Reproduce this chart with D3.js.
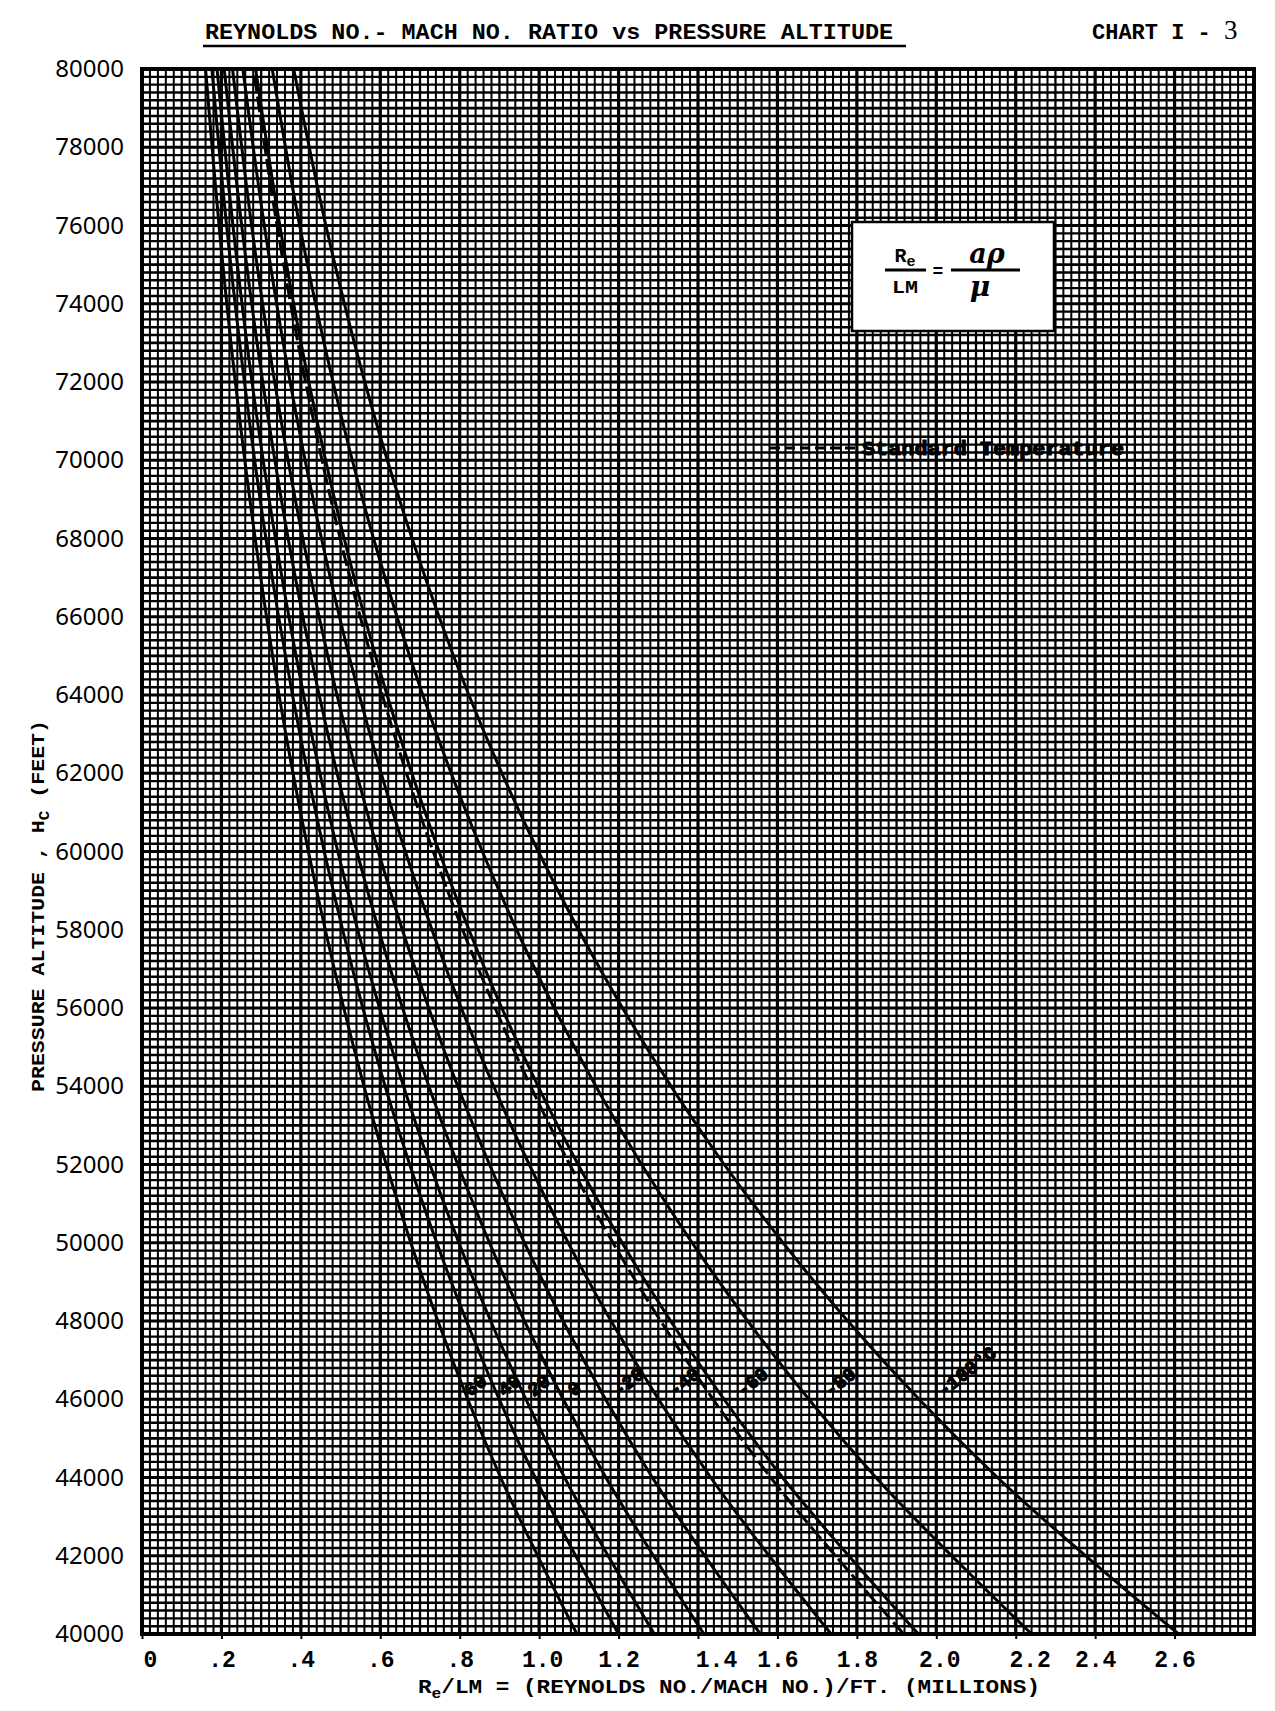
<!DOCTYPE html>
<html><head><meta charset="utf-8">
<script src="https://cdn.jsdelivr.net/npm/d3@7"></script>
<style>body{margin:0;background:#fff}</style>
</head><body>
<svg id="c" width="1275" height="1711" xmlns="http://www.w3.org/2000/svg"></svg>
<script>
// ---------- data ----------
const altitudes = [40000, 44000, 48000, 52000, 56000, 60000, 64000, 68000, 72000, 76000, 80000];
const tPlus60   = [1.095, 0.903, 0.745, 0.615, 0.508, 0.419, 0.345, 0.285, 0.235, 0.194, 0.160];
const tPlus40   = [1.200, 0.990, 0.817, 0.674, 0.556, 0.459, 0.379, 0.312, 0.258, 0.213, 0.176];
const tPlus20   = [1.290, 1.064, 0.878, 0.725, 0.598, 0.493, 0.407, 0.336, 0.277, 0.229, 0.189];
const tZero     = [1.415, 1.168, 0.963, 0.795, 0.656, 0.541, 0.446, 0.368, 0.304, 0.251, 0.207];
const tMinus20  = [1.557, 1.285, 1.060, 0.875, 0.722, 0.595, 0.491, 0.405, 0.334, 0.276, 0.228];
const tMinus40  = [1.735, 1.432, 1.181, 0.975, 0.804, 0.663, 0.547, 0.452, 0.373, 0.308, 0.254];
const tMinus60  = [1.955, 1.613, 1.331, 1.098, 0.906, 0.748, 0.617, 0.509, 0.420, 0.347, 0.286];
const tMinus80  = [2.240, 1.848, 1.525, 1.258, 1.038, 0.857, 0.707, 0.583, 0.481, 0.397, 0.328];
const tMinus100 = [2.610, 2.154, 1.777, 1.466, 1.210, 0.998, 0.823, 0.680, 0.561, 0.463, 0.382];
const standardTemp = [1.918, 1.583, 1.306, 1.077, 0.889, 0.733, 0.605, 0.499, 0.412, 0.340, 0.281];
const curveLabels = ["60", "40", "20", "0", "-20", "-40", "-60", "-80", "-100°C"];

const xTickValues = [0, 0.2, 0.4, 0.6, 0.8, 1.0, 1.2, 1.4, 1.6, 1.8, 2.0, 2.2, 2.4, 2.6];
const xTickLabels = ["0", ".2", ".4", ".6", ".8", "1.0", "1.2", "1.4", "1.6", "1.8", "2.0", "2.2", "2.4", "2.6"];
const yTickValues = [40000, 42000, 44000, 46000, 48000, 50000, 52000, 54000, 56000, 58000,
                     60000, 62000, 64000, 66000, 68000, 70000, 72000, 74000, 76000, 78000, 80000];
const labelAltitude = 46000;

// ---------- layout / styling ----------
const xTickNudge = [8, 0, 0, 0, 0, 3, 0, 18, 0, 0, 3, 14, 0, 0]; // typed labels sit slightly off their ticks
const svg = d3.select("#c");
const L = 142, R = 1254, T = 69, B = 1634;
const x = d3.scaleLinear().domain([0, 2.8]).range([L, R]);
const y = d3.scaleLinear().domain([40000, 80000]).range([B, T]);
const mono = "'Liberation Mono', 'DejaVu Sans Mono', monospace";

// ---------- graph-paper grid ----------
const grid = svg.append("g");
const minorX = d3.range(0, 141).map(i => i * 0.02);
const minorY = d3.range(0, 201).map(i => 40000 + i * 200);
grid.selectAll(".vx").data(minorX).join("line")
  .attr("x1", d => x(d)).attr("x2", d => x(d)).attr("y1", T).attr("y2", B)
  .attr("stroke", "#000").attr("stroke-width", (d, i) => i % 10 === 0 ? 3.2 : (i % 5 === 0 ? 2.3 : 2.0));
grid.selectAll(".hy").data(minorY).join("line")
  .attr("y1", d => y(d)).attr("y2", d => y(d)).attr("x1", L).attr("x2", R)
  .attr("stroke", "#000").attr("stroke-width", (d, i) => i % 10 === 0 ? 3.2 : (i % 5 === 0 ? 2.6 : 2.4));
svg.append("rect").attr("x", L).attr("y", T).attr("width", R - L).attr("height", B - T)
  .attr("fill", "none").attr("stroke", "#000").attr("stroke-width", 4);

// ---------- formula box ----------
const box = svg.append("g");
box.append("rect").attr("x", 852).attr("y", 222).attr("width", 202).attr("height", 109)
  .attr("fill", "#fff").attr("stroke", "#000").attr("stroke-width", 2.5);
box.append("text").attr("x", 905).attr("y", 262).attr("text-anchor", "middle")
  .attr("font-family", mono).attr("font-weight", "bold").attr("font-size", 20)
  .html('R<tspan dy="4" font-size="15">e</tspan>');
box.append("line").attr("x1", 885).attr("x2", 926).attr("y1", 270).attr("y2", 270).attr("stroke", "#000").attr("stroke-width", 3);
box.append("text").attr("x", 905).attr("y", 293).attr("text-anchor", "middle")
  .attr("font-family", mono).attr("font-weight", "bold").attr("font-size", 19).attr("textLength", 26)
  .attr("lengthAdjust", "spacingAndGlyphs").text("LM");
box.append("text").attr("x", 938).attr("y", 277).attr("text-anchor", "middle")
  .attr("font-family", mono).attr("font-weight", "bold").attr("font-size", 18).text("=");
box.append("line").attr("x1", 951).attr("x2", 1020).attr("y1", 270).attr("y2", 270).attr("stroke", "#000").attr("stroke-width", 3);
box.append("text").attr("x", 987).attr("y", 263).attr("text-anchor", "middle")
  .attr("font-family", "'DejaVu Serif', serif").attr("font-weight", "bold").attr("font-style", "italic").attr("font-size", 27).text("aρ");
box.append("text").attr("x", 980).attr("y", 296).attr("text-anchor", "middle")
  .attr("font-family", "'DejaVu Serif', serif").attr("font-weight", "bold").attr("font-style", "italic").attr("font-size", 28).text("μ");

// ---------- legend ----------
svg.append("line").attr("x1", 770).attr("x2", 857).attr("y1", 448).attr("y2", 448)
  .attr("stroke", "#000").attr("stroke-width", 3).attr("stroke-dasharray", "10,5");
svg.append("text").attr("x", 862).attr("y", 455).attr("font-family", mono).attr("font-weight", "bold")
  .attr("font-size", 21).attr("textLength", 262).attr("lengthAdjust", "spacingAndGlyphs")
  .attr("stroke", "#000").attr("stroke-width", 1.1).text("Standard Temperature");

// ---------- curves ----------
const series = [tPlus60, tPlus40, tPlus20, tZero, tMinus20, tMinus40, tMinus60, tMinus80, tMinus100];
const line = d3.line().x(d => x(d[0])).y(d => y(d[1])).curve(d3.curveCatmullRom.alpha(0.5));
const curvesG = svg.append("g");
series.forEach(s => {
  curvesG.append("path").datum(s.map((v, i) => [v, altitudes[i]])).attr("d", line)
    .attr("fill", "none").attr("stroke", "#000").attr("stroke-width", 3);
});
curvesG.append("path").datum(standardTemp.map((v, i) => [v, altitudes[i]])).attr("d", line)
  .attr("fill", "none").attr("stroke", "#000").attr("stroke-width", 3).attr("stroke-dasharray", "16,5");

// curve labels placed beside each curve at the label altitude
function valueAt(s, h) {
  const i = d3.bisectLeft(altitudes, h);
  const t = (h - altitudes[i - 1]) / (altitudes[i] - altitudes[i - 1]);
  return s[i - 1] + t * (s[i] - s[i - 1]);
}
series.forEach((s, k) => {
  const px = x(valueAt(s, labelAltitude)) + 1 + k * 2.5, py = y(labelAltitude) - 2;
  svg.append("text").attr("transform", `translate(${px},${py}) rotate(-38)`)
    .attr("font-family", mono).attr("font-weight", "bold").attr("font-size", 19)
    .attr("fill", "#000").attr("stroke", "#000").attr("stroke-width", 1.2)
    .text(curveLabels[k]);
});

// ---------- axes ----------
const xAxis = d3.axisBottom(x).tickValues(xTickValues).tickFormat((d, i) => xTickLabels[i]).tickSize(5).tickPadding(12);
const gx = svg.append("g").attr("transform", `translate(0,${B})`).call(xAxis);
gx.select(".domain").remove();
gx.selectAll("line").attr("stroke", "#000").attr("stroke-width", 2);
gx.selectAll("text").attr("font-family", mono).attr("font-weight", "bold").attr("font-size", 23).attr("fill", "#000")
  .attr("dx", (d, i) => xTickNudge[i]);

const yAxis = d3.axisLeft(y).tickValues(yTickValues).tickFormat(d3.format("d")).tickSize(0).tickPadding(18);
const gy = svg.append("g").attr("transform", `translate(${L},0)`).call(yAxis);
gy.select(".domain").remove();
gy.selectAll("text").attr("font-family", "'Noto Sans', sans-serif").attr("font-size", 24).attr("fill", "#000");

// ---------- titles ----------
svg.append("text").attr("x", 205).attr("y", 39).attr("font-family", mono).attr("font-weight", "bold")
  .attr("font-size", 22).attr("textLength", 688).attr("lengthAdjust", "spacingAndGlyphs")
  .text("REYNOLDS NO.- MACH NO. RATIO  vs  PRESSURE ALTITUDE");
svg.append("line").attr("x1", 203).attr("x2", 906).attr("y1", 46).attr("y2", 46).attr("stroke", "#000").attr("stroke-width", 2.4);
svg.append("text").attr("x", 1092).attr("y", 39).attr("font-family", mono).attr("font-weight", "bold")
  .attr("font-size", 22).html('CHART I - <tspan font-family="\'Liberation Serif\', serif" font-weight="normal" font-size="27">3</tspan>');

svg.append("text").attr("x", 418).attr("y", 1693).attr("font-family", mono).attr("font-weight", "bold")
  .attr("font-size", 21).attr("textLength", 622).attr("lengthAdjust", "spacingAndGlyphs")
  .html('R<tspan dy="5" font-size="15">e</tspan><tspan dy="-5">/LM = (REYNOLDS NO./MACH NO.)/FT.  (MILLIONS)</tspan>');

svg.append("text").attr("transform", "translate(44,906) rotate(-90)").attr("text-anchor", "middle")
  .attr("font-family", mono).attr("font-weight", "bold").attr("font-size", 19)
  .attr("textLength", 372).attr("lengthAdjust", "spacingAndGlyphs")
  .html('PRESSURE ALTITUDE , H<tspan dy="5" font-size="14">C</tspan><tspan dy="-5"> (FEET)</tspan>');
</script>
</body></html>
